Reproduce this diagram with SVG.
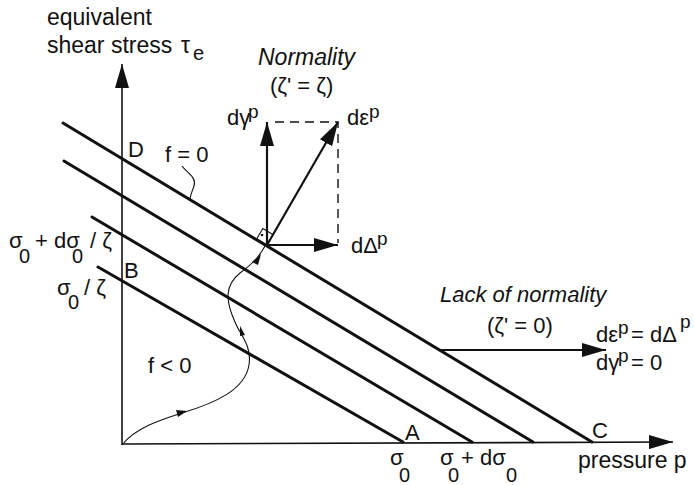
<svg xmlns="http://www.w3.org/2000/svg" width="694" height="485" viewBox="0 0 694 485">
<defs>
<style>
text{font-family:"Liberation Sans",Arial,sans-serif;font-size:22px;fill:#111}
.big{font-size:23px}
.it{font-style:italic}
.sup{font-size:19px}
.sub{font-size:20px}
.thick{stroke:#111;stroke-width:3;fill:none;stroke-linecap:round}
.axis{stroke:#111;stroke-width:1.6;fill:none}
.vec{stroke:#111;stroke-width:2.2;fill:none}
.thin{stroke:#111;stroke-width:1.1;fill:none}
.dash{stroke:#111;stroke-width:1.4;fill:none;stroke-dasharray:9,6}
</style>
<marker id="ah" viewBox="0 0 24 14" refX="24" refY="7" markerWidth="24" markerHeight="14" markerUnits="userSpaceOnUse" orient="auto">
<path d="M0,0 L24,7 L0,14 Z" fill="#111"/>
</marker>
</defs>
<rect width="694" height="485" fill="#fff"/>

<g id="axes">
<line class="axis" x1="122" y1="445" x2="122" y2="64" marker-end="url(#ah)"/>
<line class="axis" x1="122" y1="444" x2="673" y2="442" marker-end="url(#ah)"/>
<text x="47" y="25" class="big">equivalent</text>
<text x="47" y="53" class="big">shear stress<tspan x="181">τ</tspan><tspan x="193" dy="7" class="sub">e</tspan></text>
<text x="578" y="468" class="big">pressure p</text>
</g>

<g id="yield-lines">
<line class="thick" x1="63" y1="123" x2="592" y2="442"/>
<line class="thick" x1="64" y1="161" x2="533" y2="442"/>
<line class="thick" x1="92" y1="217" x2="472" y2="442"/>
<line class="thick" x1="98" y1="267" x2="403" y2="442"/>
</g>

<g id="labels">
<text x="128" y="157">D</text>
<text x="165" y="162">f = 0</text>
<path class="thin" d="M182,166 C186,172 197,177 194,186 C192,192 190,196 190,200"/>
<text x="124" y="278">B</text>
<text x="9" y="248">σ<tspan x="19" dy="15" class="sub">0</tspan><tspan x="35" dy="-15">+ dσ</tspan><tspan x="72" dy="15" class="sub">0</tspan><tspan x="90" dy="-15">/ ζ</tspan></text>
<text x="57" y="295">σ<tspan x="68" dy="14" class="sub">0</tspan><tspan x="84" dy="-14">/ ζ</tspan></text>
<text x="148" y="373">f &lt; 0</text>
<text x="405" y="440">A</text>
<text x="592" y="438">C</text>
<text x="390" y="465">σ<tspan x="399" dy="17" class="sub">0</tspan></text>
<text x="440" y="465">σ<tspan x="448" dy="17" class="sub">0</tspan><tspan x="461" dy="-17">+ dσ</tspan><tspan x="506" dy="17" class="sub">0</tspan></text>
</g>

<g id="path-curve">
<path class="thin" d="M122,445 C135,428 160,420 182,413 C215,403 245,390 249,365 C252,345 240,335 235,322 C225,300 225,285 240,273 C255,262 260,255 265,246"/>
<path d="M176,410 L187,411 L178,417 Z" fill="#111"/>
<path d="M240,336 L240,326 L245,335 Z" fill="#111"/>
<path d="M252,262 L261,254 L258,265 Z" fill="#111"/>
</g>

<g id="normality">
<text x="258" y="65" class="it big">Normality</text>
<text x="270" y="93">(ζ' = ζ)</text>
<path class="dash" d="M275,122 H338 V243"/>
<path class="thin" d="M267,245 L256.7,238.8 L262.9,228.5 L273.2,234.7"/>
<circle cx="262" cy="235" r="1.3" fill="#111"/>
<line class="vec" x1="267" y1="245" x2="267" y2="122" marker-end="url(#ah)"/>
<line class="vec" x1="267" y1="245" x2="338" y2="122" marker-end="url(#ah)"/>
<line class="vec" x1="267" y1="245" x2="338" y2="245" marker-end="url(#ah)"/>
<text x="227" y="125">dγ<tspan x="248" dy="-7" class="sup">p</tspan></text>
<text x="347" y="125">dε<tspan x="369" dy="-7" class="sup">p</tspan></text>
<text x="351" y="253">dΔ<tspan x="377" dy="-8" class="sup">p</tspan></text>
</g>

<g id="lack-of-normality">
<text x="440" y="302" class="it">Lack of normality</text>
<text x="487" y="333">(ζ' = 0)</text>
<line class="vec" x1="440" y1="350" x2="606" y2="350" marker-end="url(#ah)"/>
<text x="596" y="342">dε<tspan x="618" dy="-8" class="sup">p</tspan><tspan x="631" dy="8">= dΔ</tspan><tspan x="680" dy="-14" class="sup">p</tspan></text>
<text x="596" y="370">dγ<tspan x="618" dy="-8" class="sup">p</tspan><tspan x="631" dy="8">= 0</tspan></text>
</g>
</svg>
